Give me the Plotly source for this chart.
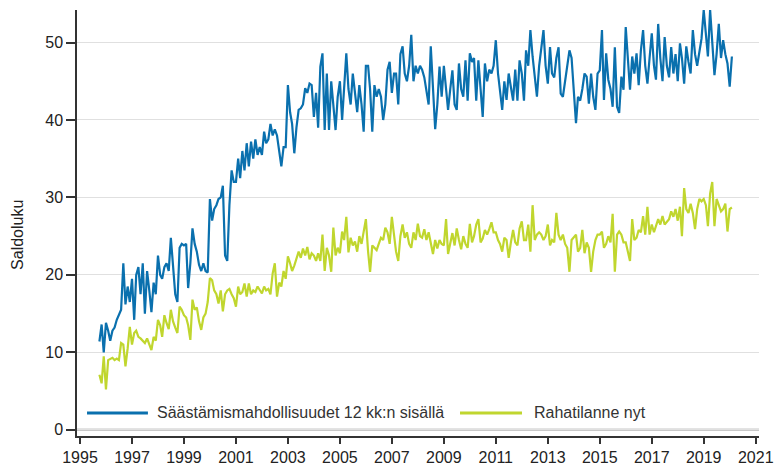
import pandas as pd
import plotly.graph_objects as go

START_MONTH = "1995-10-01"

# Säästämismahdollisuudet 12 kk:n sisällä (monthly, Oct 1995 - Feb 2020)
saastamis = [
    11.4, 13.6, 10.0,
    13.8, 12.8, 11.5, 12.8, 13.2, 14.2, 14.8, 15.5, 21.5, 16.2, 18.5, 16.5,
    19.5, 14.2, 20.0, 21.0, 17.5, 21.5, 15.0, 20.5, 18.0, 15.2, 19.0, 17.5,
    22.5, 20.0, 19.5, 21.0, 21.5, 20.5, 24.8, 21.0, 17.5, 16.5, 23.5, 24.0,
    23.8, 24.0, 18.3, 21.5, 26.0, 24.0, 23.0, 21.3, 20.5, 21.5, 20.5, 20.3,
    29.8, 27.0, 28.5, 29.0, 29.8, 30.0, 31.5, 22.5, 21.8, 29.0, 33.5, 32.0,
    32.0, 35.0, 32.5, 36.0, 33.5, 37.0, 34.0, 37.2, 35.0, 37.5, 35.5, 36.5,
    35.5, 38.5, 37.0, 37.5, 39.5, 38.0, 38.8, 38.0, 36.0, 34.0, 36.5, 36.5,
    44.5, 41.0, 39.5, 35.7, 39.0, 41.3, 41.5, 42.0, 44.1, 43.5, 44.7, 44.5,
    40.4, 43.5, 39.0, 46.9, 48.6, 38.7, 46.0, 38.7, 45.0, 42.0, 38.7, 43.0,
    45.0, 40.0, 44.0, 48.6, 44.0, 42.0, 46.0, 43.0, 41.0, 44.5, 42.0, 38.5,
    47.0, 47.0, 44.0, 38.5, 44.5, 43.0, 44.0, 43.0, 40.0, 42.0, 46.5, 47.5,
    43.5, 46.0, 46.0, 42.0, 48.5, 49.5, 46.0, 45.0, 47.0, 51.0, 45.0, 47.0,
    46.0, 47.0, 46.5, 45.5, 44.0, 42.0, 49.5, 44.0, 38.8, 42.0, 46.9, 43.0,
    47.0, 44.0, 41.3, 44.0, 46.4, 42.0, 41.3, 47.3, 44.0, 43.0, 47.7, 42.5,
    48.6, 47.5, 48.0, 42.5, 47.7, 44.0, 40.4, 47.3, 45.0, 46.5, 46.0, 47.0,
    50.3, 46.0, 44.0, 41.3, 45.0, 42.6, 46.0, 44.0, 42.5, 46.5, 42.5, 47.7,
    46.0, 42.5, 49.0, 47.0, 51.6, 48.2, 46.0, 43.0, 47.0, 49.0, 51.6, 47.0,
    44.7, 49.4, 46.0, 45.5, 48.0, 49.4, 43.4, 43.0, 45.0, 47.0, 49.0, 48.0,
    44.0, 39.6, 43.0, 42.5, 44.0, 46.0, 45.6, 42.1, 46.0, 43.0, 41.3, 46.0,
    46.4, 51.6, 42.6, 48.6, 45.2, 44.0, 41.7, 49.4, 41.7, 40.9, 45.6, 43.9,
    52.0, 47.7, 43.9, 48.2, 46.0, 48.6, 44.5, 49.0, 51.6, 47.0, 44.7, 48.0,
    51.2, 47.0, 45.2, 52.4, 48.0, 45.0, 50.7, 47.0, 45.5, 49.4, 46.0, 48.5,
    45.0, 49.9, 48.0, 44.7, 49.5, 47.5, 46.0, 51.6, 48.5, 47.0, 49.0, 50.5,
    54.2, 51.2, 48.2, 54.2, 50.0, 45.8, 48.5, 52.4, 48.0, 50.3, 48.5, 47.3,
    44.3, 48.2,
]

# Rahatilanne nyt (monthly, Oct 1995 - Feb 2020)
rahatilanne = [
    7.1, 6.0, 9.5,
    5.2, 9.0, 9.2, 9.3, 9.0, 9.2, 9.0, 11.2, 11.0, 8.2, 10.5, 13.3,
    11.0, 12.5, 12.8, 12.0, 11.8, 11.5, 11.2, 11.8, 11.0, 10.3, 12.0, 11.5,
    14.2, 13.5, 12.0, 14.8, 13.8, 13.0, 15.5, 14.0, 13.2, 12.5, 15.9, 15.5,
    14.8, 14.5, 13.5, 11.6, 16.8, 15.5, 15.8, 14.0, 12.9, 14.5, 15.0, 16.5,
    19.6, 19.3, 18.0, 17.5, 16.3, 18.0, 15.3, 17.5, 18.0, 18.2, 17.5, 17.0,
    15.9, 18.5, 17.5, 17.8, 18.9, 17.2, 18.9, 17.5, 18.0, 17.8, 18.5, 18.0,
    17.6, 18.5, 18.0, 18.2, 17.5, 20.2, 21.5, 17.2, 19.0, 18.5, 20.5, 19.5,
    22.4, 21.5, 20.5, 21.2, 22.0, 23.0, 22.2, 23.4, 22.5, 23.6, 22.0, 22.8,
    22.5, 21.8, 22.8, 21.8, 25.2, 20.5, 23.5, 22.5, 20.4, 26.1, 22.5, 23.5,
    22.8, 25.6, 24.5, 27.5, 22.9, 24.8, 23.8, 24.3, 23.0, 25.0, 24.0, 25.8,
    27.2, 23.0, 20.4, 23.8, 23.5, 23.2, 24.0, 24.8, 24.5, 26.1, 25.5, 24.0,
    27.5, 24.8, 23.0, 21.8, 25.0, 26.5, 24.8, 25.5, 24.0, 23.5, 25.5, 24.5,
    26.6, 25.0, 24.8, 25.9, 24.5, 25.5, 24.0, 22.7, 24.5, 23.4, 24.5, 24.0,
    23.8, 27.2, 22.7, 24.2, 25.4, 23.8, 26.0, 24.5, 23.3, 25.0, 24.0, 23.5,
    26.6, 24.2, 25.0, 26.5, 27.2, 24.2, 24.7, 25.8, 25.2, 25.9, 26.8, 25.5,
    25.5, 24.5, 24.0, 23.0, 24.8, 24.5, 22.2, 24.2, 25.8, 24.2, 23.8, 26.0,
    26.9, 24.5, 24.5, 26.5, 23.0, 29.0, 24.5, 25.2, 25.5, 25.2, 24.5, 25.0,
    26.5, 23.8, 24.5, 24.2, 28.0, 25.2, 24.5, 25.2, 24.0, 23.5, 20.4, 24.5,
    24.8, 25.2, 23.0, 23.5, 25.8, 22.8, 24.2, 23.5, 20.4, 23.0, 24.5, 25.2,
    25.2, 25.6, 23.5, 24.0, 25.0, 24.2, 27.9, 20.4, 25.2, 25.6, 25.2, 24.2,
    24.2, 23.0, 21.8, 27.2, 24.5, 24.8, 25.8, 25.5, 27.6, 25.2, 28.8, 25.2,
    26.5, 25.5, 26.4, 27.2, 26.5, 27.6, 26.5, 26.8, 27.2, 28.2, 27.5, 28.5,
    27.0, 28.8, 25.0, 31.2, 28.5, 28.0, 29.2, 28.0, 25.9, 28.5, 29.8, 29.5,
    29.8, 29.0, 26.3, 30.5, 32.0, 26.3, 29.8, 29.0, 28.2, 28.5, 29.2, 25.6,
    28.5, 28.7,
]

series_names = ["Säästämismahdollisuudet 12 kk:n sisällä", "Rahatilanne nyt"]
series_colors = ["#0a70ae", "#c0d62e"]
y_ticks = [0, 10, 20, 30, 40, 50]
y_title = "Saldoluku"

months = pd.date_range(start=START_MONTH, periods=len(saastamis), freq="MS")

fig = go.Figure()
for vals, name, col in zip([saastamis, rahatilanne], series_names, series_colors):
    fig.add_trace(go.Scatter(
        x=months, y=vals, mode="lines", name=name,
        line=dict(color=col, width=2.2), showlegend=False,
        hovertemplate="%{x|%Y-%m}: %{y}<extra>" + name + "</extra>",
    ))

# zero gridline (thicker grey)
fig.add_shape(type="line", xref="paper", x0=0, x1=1, yref="y", y0=0, y1=0,
              line=dict(color="#c8c8c8", width=2.5), layer="below")

# custom legend inside plot area
leg_y = 0.054
legend_items = [(0.0147, 0.104, 0.114), (0.5616, 0.6525, 0.6672)]
for (xa, xb, xt), name, col in zip(legend_items, series_names, series_colors):
    fig.add_shape(type="line", xref="paper", yref="paper", x0=xa, x1=xb,
                  y0=leg_y, y1=leg_y, line=dict(color=col, width=3))
    fig.add_annotation(xref="paper", yref="paper", x=xt, y=leg_y, text=name,
                       showarrow=False, xanchor="left", yanchor="middle",
                       font=dict(size=16, color="#333333"))

# y-axis title as rotated annotation
fig.add_annotation(xref="paper", yref="paper", x=0, y=0.472, xshift=-59,
                   text=y_title, textangle=-90, showarrow=False,
                   xanchor="center", yanchor="middle",
                   font=dict(size=16, color="#222222"))

fig.update_layout(
    width=776, height=473,
    margin=dict(l=77, r=17, t=10, b=37),
    paper_bgcolor="white", plot_bgcolor="white",
    font=dict(family="Liberation Sans, Arial, sans-serif", size=16, color="#222222"),
    showlegend=False,
)
fig.update_xaxes(
    type="date", range=["1994-11-20", "2021-02-16"],
    tick0="1995-01-01", dtick="M24", tickformat="%Y",
    ticks="outside", ticklen=6, tickwidth=1.5, tickcolor="#333333",
    showline=True, linecolor="#333333", linewidth=2,
    showgrid=False, zeroline=False, automargin=False,
)
fig.update_yaxes(
    range=[-0.8, 54.2], tickvals=y_ticks,
    ticks="outside", ticklen=9, tickwidth=1.5, tickcolor="#333333",
    showline=True, linecolor="#333333", linewidth=1.5,
    showgrid=True, gridcolor="#e0e0e0", gridwidth=1, zeroline=False,
    automargin=False,
)

fig.write_html("out.html", config={"displayModeBar": False},
               post_script="document.body.style.margin='0';")
